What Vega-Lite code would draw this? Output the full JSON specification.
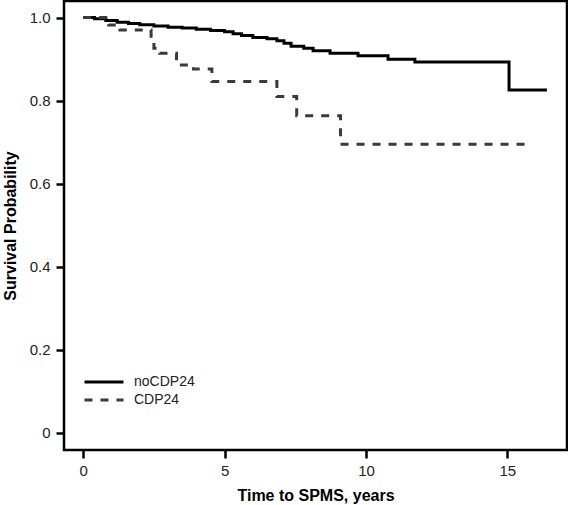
{
  "$schema": "https://vega.github.io/schema/vega-lite/v6.json",
  "width": 503,
  "height": 449,
  "autosize": "none",
  "padding": {"left": 64, "top": 1, "right": 1, "bottom": 55},
  "background": "white",
  "config": {
    "view": {"stroke": "black", "strokeWidth": 2.5},
    "font": "Liberation Sans",
    "axis": {
      "grid": false,
      "domain": false,
      "tickColor": "black",
      "tickWidth": 2.5,
      "tickSize": 8,
      "labelFont": "Liberation Sans",
      "labelFontSize": 15,
      "labelColor": "#222",
      "titleFont": "Liberation Sans",
      "titleFontSize": 16,
      "titleFontWeight": "bold",
      "titleColor": "black"
    }
  },
  "data": {
    "values": [
      {"group": "noCDP24", "t": 0, "s": 1.0},
      {"group": "noCDP24", "t": 0.4, "s": 0.997},
      {"group": "noCDP24", "t": 0.8, "s": 0.993},
      {"group": "noCDP24", "t": 1.2, "s": 0.989},
      {"group": "noCDP24", "t": 1.6, "s": 0.986},
      {"group": "noCDP24", "t": 2.0, "s": 0.983},
      {"group": "noCDP24", "t": 2.5, "s": 0.980},
      {"group": "noCDP24", "t": 3.0, "s": 0.977},
      {"group": "noCDP24", "t": 3.5, "s": 0.975},
      {"group": "noCDP24", "t": 4.0, "s": 0.972},
      {"group": "noCDP24", "t": 4.5, "s": 0.969},
      {"group": "noCDP24", "t": 5.0, "s": 0.966},
      {"group": "noCDP24", "t": 5.3, "s": 0.961},
      {"group": "noCDP24", "t": 5.6, "s": 0.957},
      {"group": "noCDP24", "t": 6.0, "s": 0.952},
      {"group": "noCDP24", "t": 6.5, "s": 0.949},
      {"group": "noCDP24", "t": 6.85, "s": 0.944},
      {"group": "noCDP24", "t": 7.1, "s": 0.938},
      {"group": "noCDP24", "t": 7.35, "s": 0.931},
      {"group": "noCDP24", "t": 7.8, "s": 0.926},
      {"group": "noCDP24", "t": 8.13, "s": 0.920},
      {"group": "noCDP24", "t": 8.73, "s": 0.914},
      {"group": "noCDP24", "t": 9.72, "s": 0.908},
      {"group": "noCDP24", "t": 10.78, "s": 0.900},
      {"group": "noCDP24", "t": 11.73, "s": 0.893},
      {"group": "noCDP24", "t": 15.06, "s": 0.826},
      {"group": "noCDP24", "t": 16.4, "s": 0.826},
      {"group": "CDP24", "t": 0, "s": 1.0},
      {"group": "CDP24", "t": 0.9, "s": 0.982},
      {"group": "CDP24", "t": 1.3, "s": 0.970},
      {"group": "CDP24", "t": 2.4, "s": 0.940},
      {"group": "CDP24", "t": 2.5, "s": 0.926},
      {"group": "CDP24", "t": 2.7, "s": 0.914},
      {"group": "CDP24", "t": 3.3, "s": 0.886},
      {"group": "CDP24", "t": 3.9, "s": 0.876},
      {"group": "CDP24", "t": 4.55, "s": 0.846},
      {"group": "CDP24", "t": 6.85, "s": 0.810},
      {"group": "CDP24", "t": 7.55, "s": 0.764},
      {"group": "CDP24", "t": 9.1, "s": 0.695},
      {"group": "CDP24", "t": 15.8, "s": 0.695}
    ]
  },
  "mark": {"type": "line", "interpolate": "step-after", "strokeWidth": 3, "clip": true},
  "encoding": {
    "x": {
      "field": "t",
      "type": "quantitative",
      "scale": {"domain": [-0.68, 17.11], "nice": false, "zero": false},
      "axis": {"values": [0, 5, 10, 15], "title": "Time to SPMS, years", "labelPadding": 5, "titlePadding": 9}
    },
    "y": {
      "field": "s",
      "type": "quantitative",
      "scale": {"domain": [-0.041, 1.04], "nice": false, "zero": false},
      "axis": {
        "values": [0, 0.2, 0.4, 0.6, 0.8, 1.0],
        "labelExpr": "datum.value == 0 ? '0' : format(datum.value, '.1f')",
        "title": "Survival Probability",
        "labelPadding": 6,
        "titlePadding": 11
      }
    },
    "color": {
      "field": "group",
      "type": "nominal",
      "scale": {"domain": ["noCDP24", "CDP24"], "range": ["black", "#3a3a3a"]},
      "legend": {
        "title": null,
        "orient": "none",
        "legendX": 19,
        "legendY": 372,
        "padding": 0,
        "symbolType": "stroke",
        "symbolSize": 1521,
        "symbolStrokeWidth": 3,
        "clipHeight": 18,
        "labelFont": "Liberation Sans",
        "labelFontSize": 14,
        "labelColor": "#222",
        "labelOffset": 9,
        "rowPadding": 0
      }
    },
    "strokeDash": {
      "field": "group",
      "type": "nominal",
      "scale": {"domain": ["noCDP24", "CDP24"], "range": [[1, 0], [8, 8]]},
      "legend": {
        "title": null,
        "orient": "none",
        "legendX": 19,
        "legendY": 372,
        "padding": 0,
        "symbolType": "stroke",
        "symbolSize": 1521,
        "symbolStrokeWidth": 3,
        "clipHeight": 18,
        "labelFont": "Liberation Sans",
        "labelFontSize": 14,
        "labelColor": "#222",
        "labelOffset": 9,
        "rowPadding": 0
      }
    }
  }
}
